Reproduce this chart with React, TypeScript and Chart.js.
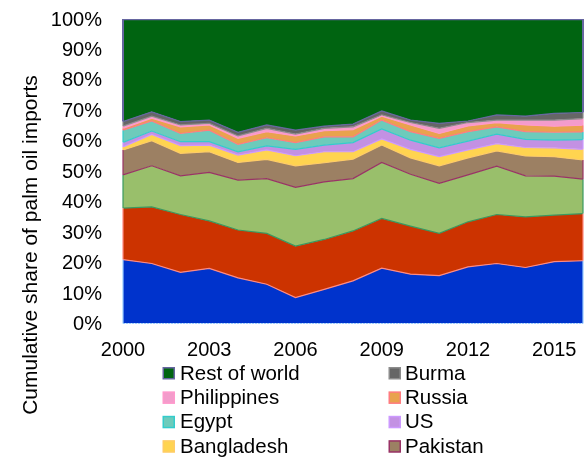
import React, { useEffect, useRef } from "react";
import { Chart, registerables } from "chart.js";

Chart.register(...registerables);

// Years on the horizontal axis
const years = [
  "2000", "2001", "2002", "2003", "2004", "2005", "2006", "2007", "2008",
  "2009", "2010", "2011", "2012", "2013", "2014", "2015", "2016",
];
const xTickLabels = ["2000", "2003", "2006", "2009", "2012", "2015"];
const yTickValues = [0, 10, 20, 30, 40, 50, 60, 70, 80, 90, 100];

// Share of world palm oil imports, percent (stacked bottom to top)
const india = [21.0, 19.7, 16.8, 18.1, 15.0, 12.9, 8.5, 11.2, 14.0, 18.2, 16.2, 15.7, 18.6, 19.7, 18.4, 20.3, 20.6];
const eu = [16.9, 18.6, 19.0, 15.6, 15.7, 16.7, 16.9, 16.4, 16.4, 16.3, 15.8, 13.9, 14.8, 16.1, 16.6, 15.3, 15.5];
const china = [10.9, 13.5, 12.7, 15.9, 16.4, 18.0, 19.3, 18.9, 17.2, 18.4, 17.0, 16.4, 15.4, 15.9, 13.5, 12.8, 11.3];
const pakistan = [8.2, 8.2, 7.4, 6.8, 5.8, 6.3, 7.1, 6.3, 6.4, 5.7, 5.4, 5.8, 5.6, 5.0, 6.5, 6.4, 6.3];
const bangladesh = [1.0, 2.1, 2.5, 2.2, 2.4, 3.1, 3.3, 3.6, 2.4, 2.0, 2.8, 3.0, 2.6, 2.4, 2.8, 2.9, 3.5];
const us = [1.5, 1.1, 1.3, 1.1, 1.1, 1.3, 2.1, 2.2, 3.0, 3.3, 3.0, 2.9, 2.9, 3.1, 2.7, 2.5, 3.2];
const egypt = [4.0, 3.3, 2.7, 3.8, 2.4, 2.7, 2.2, 2.7, 1.9, 2.9, 2.8, 3.1, 3.1, 2.4, 2.5, 2.6, 2.5];
const russia = [0.6, 0.9, 2.2, 1.7, 2.0, 2.0, 2.2, 2.0, 2.4, 1.3, 2.2, 1.6, 1.9, 1.4, 2.2, 2.0, 2.2];
const philippines = [0.7, 0.7, 0.6, 0.5, 0.8, 1.1, 0.6, 0.8, 0.9, 0.4, 0.8, 1.7, 1.1, 0.8, 1.6, 2.0, 2.2];
const burma = [1.5, 1.4, 1.1, 1.1, 1.2, 1.1, 1.3, 0.7, 0.9, 1.3, 0.8, 1.6, 0.5, 1.7, 1.3, 2.2, 2.0];
const restOfWorld = [33.7, 30.5, 33.7, 33.2, 37.2, 34.8, 36.5, 35.2, 34.5, 30.2, 33.2, 34.3, 33.5, 31.5, 31.9, 31.0, 30.7];

const FONT = '"Liberation Sans", Arial, Helvetica, sans-serif';

type Series = { label: string; data: number[]; fill: string; edge: string };

const series: Series[] = [
  { label: "India", data: india, fill: "#0033cc", edge: "#99ccff" },
  { label: "EU", data: eu, fill: "#cc3300", edge: "#ff8a80" },
  { label: "China", data: china, fill: "#99bf6b", edge: "#3a9a60" },
  { label: "Pakistan", data: pakistan, fill: "#9c8063", edge: "#993366" },
  { label: "Bangladesh", data: bangladesh, fill: "#ffd450", edge: "#ffcc66" },
  { label: "US", data: us, fill: "#c391e3", edge: "#cc99ff" },
  { label: "Egypt", data: egypt, fill: "#6dcbbb", edge: "#33cccc" },
  { label: "Russia", data: russia, fill: "#e9a24e", edge: "#ff7c80" },
  { label: "Philippines", data: philippines, fill: "#f39ccb", edge: "#ff99cc" },
  { label: "Burma", data: burma, fill: "#666666", edge: "#8c8c8c" },
  { label: "Rest of world", data: restOfWorld, fill: "#006411", edge: "#6666a0" },
];

export default function App() {
  const ref = useRef<HTMLCanvasElement>(null);

  useEffect(() => {
    const canvas = ref.current;
    if (!canvas) return;

    // Each band's top edge takes the outline colour of the band above it
    const datasets = series.map((s, i) => {
      const last = i === series.length - 1;
      return {
        label: s.label,
        data: s.data,
        backgroundColor: s.fill,
        borderColor: last ? s.edge : series[i + 1].edge,
        borderWidth: last ? 2.5 : 1.2,
        fill: i === 0 ? "origin" : "-1",
        pointRadius: 0,
        pointHoverRadius: 0,
        tension: 0,
      };
    });

    const decorations = {
      id: "decorations",
      afterDatasetsDraw(chart: any) {
        const { ctx, chartArea: a } = chart;
        ctx.save();
        // side outlines of every band
        for (let i = 0; i < series.length; i++) {
          const meta = chart.getDatasetMeta(i);
          const prev = i > 0 ? chart.getDatasetMeta(i - 1) : null;
          const n = meta.data.length;
          for (const idx of [0, n - 1]) {
            const top = meta.data[idx].y;
            const bot = prev ? prev.data[idx].y : a.bottom;
            const x = meta.data[idx].x;
            ctx.strokeStyle = series[i].edge;
            ctx.lineWidth = i === series.length - 1 ? 2 : 1.2;
            ctx.beginPath();
            ctx.moveTo(x, bot);
            ctx.lineTo(x, top);
            ctx.stroke();
          }
        }
        // bottom outline of the lowest band
        ctx.strokeStyle = series[0].edge;
        ctx.lineWidth = 1.2;
        ctx.setLineDash([2, 1]);
        ctx.beginPath();
        ctx.moveTo(a.left, a.bottom);
        ctx.lineTo(a.right, a.bottom);
        ctx.stroke();
        ctx.restore();
      },
      afterDraw(chart: any) {
        const { ctx } = chart;
        const xs = chart.scales.x;
        const ys = chart.scales.y;
        ctx.save();
        ctx.fillStyle = "#000000";

        // y tick labels
        ctx.font = `20px ${FONT}`;
        ctx.textAlign = "right";
        ctx.textBaseline = "middle";
        for (const v of yTickValues) {
          ctx.fillText(`${v}%`, 102, ys.getPixelForValue(v) + 1);
        }

        // x tick labels
        ctx.textAlign = "center";
        ctx.textBaseline = "alphabetic";
        for (const lab of xTickLabels) {
          ctx.fillText(lab, xs.getPixelForValue(years.indexOf(lab)), 355.5);
        }

        // y axis title
        ctx.save();
        ctx.font = `21px ${FONT}`;
        ctx.translate(36.5, 245);
        ctx.rotate(-Math.PI / 2);
        ctx.textAlign = "center";
        ctx.textBaseline = "alphabetic";
        ctx.fillText("Cumulative share of palm oil imports", 0, 0);
        ctx.restore();

        // legend: two columns, top series first
        const items = series.slice().reverse();
        const colBox = [163, 389];
        const colText = [180, 405];
        const row0 = 373;
        const rowGap = 24.4;
        ctx.font = `20.5px ${FONT}`;
        ctx.textAlign = "left";
        ctx.textBaseline = "alphabetic";
        items.forEach((s, k) => {
          const col = k % 2;
          const row = Math.floor(k / 2);
          const cy = row0 + row * rowGap;
          const bx = colBox[col];
          ctx.fillStyle = s.fill;
          ctx.fillRect(bx, cy - 5.5, 11.5, 11.5);
          ctx.strokeStyle = s.edge;
          ctx.lineWidth = 1.5;
          ctx.strokeRect(bx + 0.25, cy - 5.25, 11, 11);
          ctx.fillStyle = "#000000";
          ctx.fillText(s.label, colText[col], cy + 6.5);
        });
        ctx.restore();
      },
    };

    const chart = new Chart(canvas, {
      type: "line",
      data: { labels: years, datasets: datasets as any },
      options: {
        responsive: false,
        animation: false,
        events: [],
        layout: { padding: { left: 123, top: 19, right: 3, bottom: 133.5 } },
        scales: {
          x: { display: false, offset: false },
          y: { display: false, stacked: true, min: 0, max: 100 },
        },
        plugins: {
          legend: { display: false },
          tooltip: { enabled: false },
          filler: { propagate: false },
        },
      },
      plugins: [decorations],
    });

    return () => chart.destroy();
  }, []);

  return (
    <div
      style={{
        position: "absolute",
        left: 0,
        top: 0,
        width: 586,
        height: 457,
        overflow: "hidden",
        background: "#ffffff",
      }}
    >
      <canvas ref={ref} width={586} height={457} style={{ display: "block" }} />
    </div>
  );
}
